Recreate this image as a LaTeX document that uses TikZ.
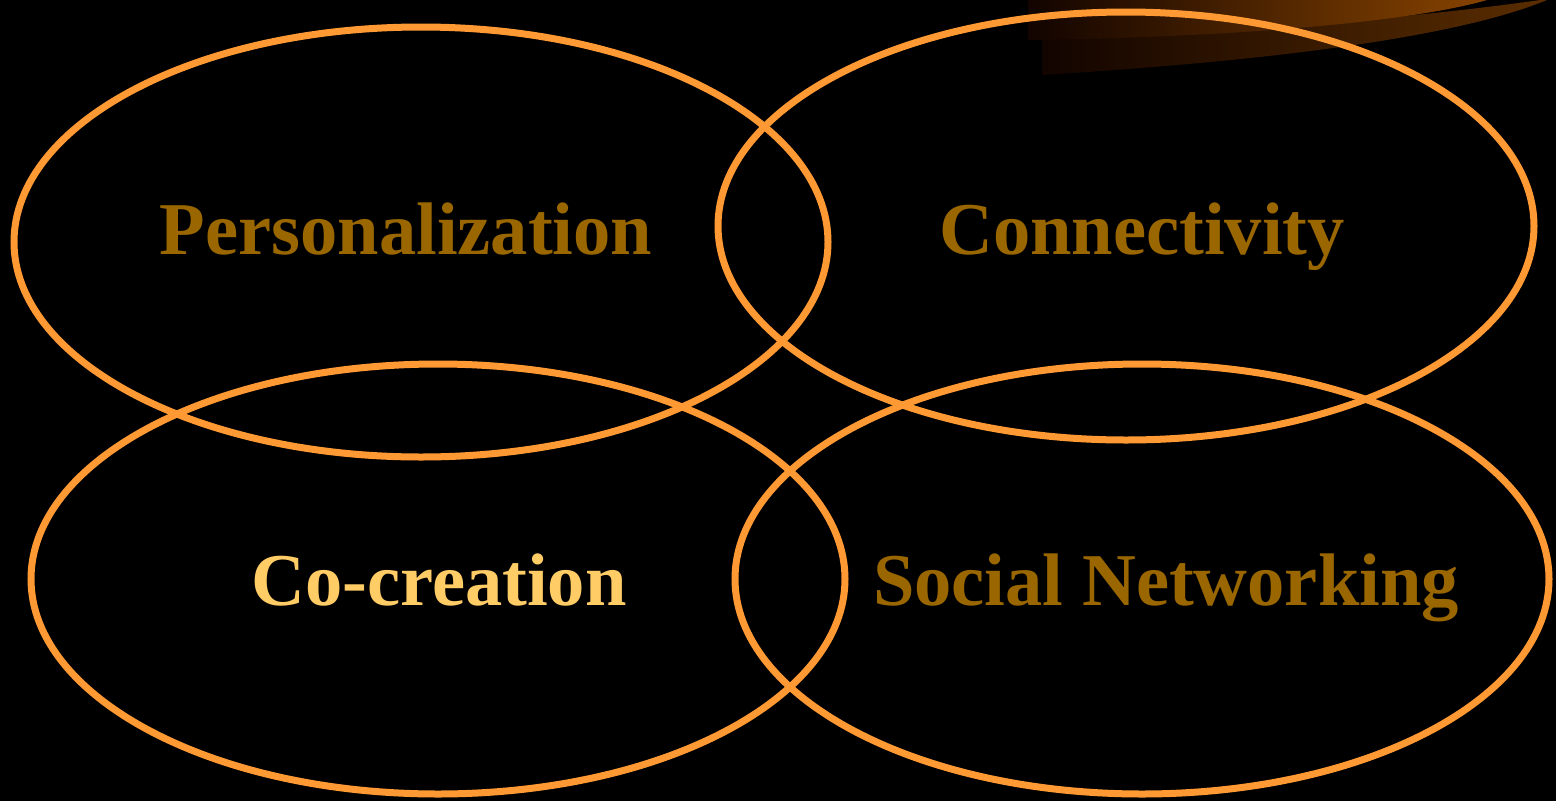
\documentclass[tikz,border=0pt]{standalone}
\usepackage{fontspec}
\setmainfont{Liberation Serif}
\definecolor{ringc}{RGB}{255,153,51}
\definecolor{labc}{RGB}{153,102,0}
\definecolor{labhi}{RGB}{255,204,102}
\definecolor{bandL}{RGB}{18,4,0}
\definecolor{bandA}{RGB}{135,67,0}
\definecolor{bandB}{RGB}{90,45,0}
\begin{document}
\begin{tikzpicture}[x=1pt,y=-1pt,
  ring/.style={draw=ringc,line width=7pt},
  lab/.style={anchor=base,font=\fontsize{74.5}{80}\selectfont\bfseries,text=labc,inner sep=0pt}]
\fill[black] (0,0) rectangle (1556,801);
\useasboundingbox (0,0) rectangle (1556,801);
% decorative swooshes
\shade[left color=bandL,right color=bandB] (1042,37) -- (1042,75) .. controls (1250,62) and (1450,40) .. (1547,0) -- (1540,0) .. controls (1400,20) and (1200,35) .. (1042,37) -- cycle;
\shade[left color=bandL,right color=bandA] (1028,0) -- (1028,40) .. controls (1200,38) and (1400,25) .. (1487,0) -- cycle;
% rings
\draw[ring] (421,242) ellipse (407 and 215);
\draw[ring] (1126,226) ellipse (408 and 214);
\draw[ring] (438,579) ellipse (407 and 215);
\draw[ring] (1142,579) ellipse (407 and 215);
% labels
\node[lab] (pers) at (406,254) {Personalization};
\node[lab] (conn) at (1142,254) {Connectivity};
\node[lab,text=labhi] (cocr) at (439,605) {Co-creation};
\node[lab] (soci) at (1166,605) {Social Networking};
\end{tikzpicture}
\end{document}
